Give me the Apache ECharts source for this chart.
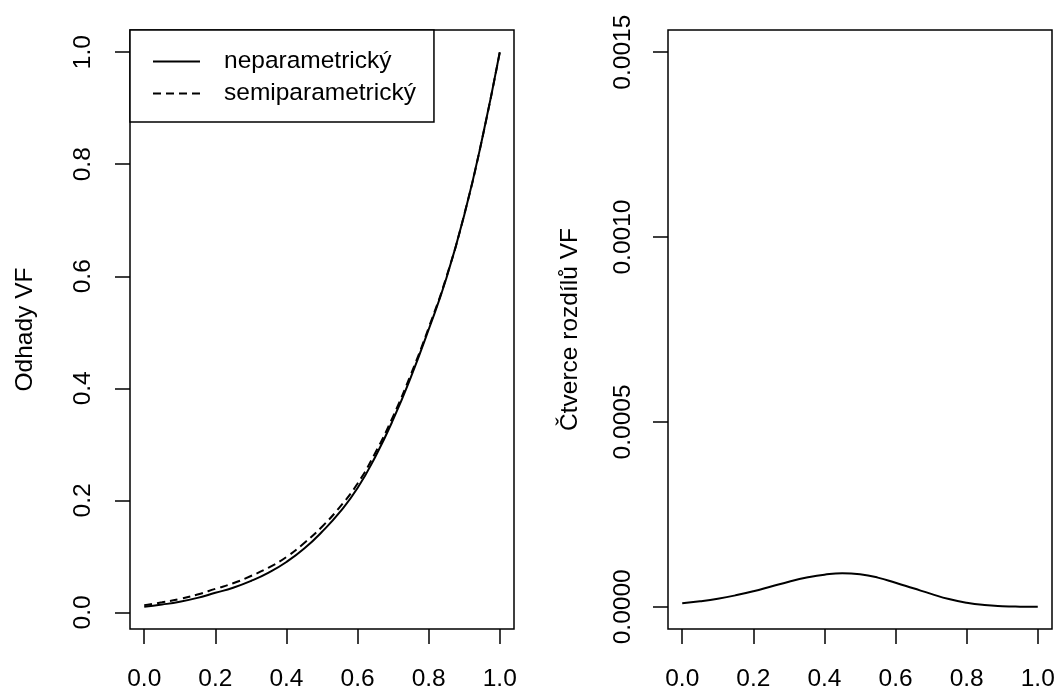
<!DOCTYPE html>
<html lang="cs">
<head>
    <meta charset="UTF-8">
    <title>Odhady VF</title>
    <script src="https://cdn.jsdelivr.net/npm/echarts@6/dist/echarts.min.js"></script>
    <style>
        html, body { margin: 0; padding: 0; background: #fff; }
        #chart { width: 1063px; height: 693px; }
    </style>
</head>
<body>
<div id="chart"></div>
<script>
    // hodnoty
    var xs = [0, 0.05, 0.1, 0.15, 0.2, 0.25, 0.3, 0.35, 0.4, 0.45, 0.5,
              0.55, 0.6, 0.65, 0.7, 0.75, 0.8, 0.85, 0.9, 0.95, 1.0];
    var neparam = [0.010, 0.014, 0.019, 0.026, 0.035, 0.044, 0.056, 0.071, 0.090, 0.114, 0.144,
                   0.179, 0.222, 0.278, 0.344, 0.420, 0.505, 0.597, 0.709, 0.844, 1.000];
    var semiparam = [0.013, 0.018, 0.024, 0.032, 0.042, 0.052, 0.065, 0.080, 0.099, 0.124, 0.153,
                     0.188, 0.230, 0.285, 0.350, 0.425, 0.508, 0.599, 0.710, 0.844, 1.000];
    var ctverce = [0.0000095, 0.000015, 0.000022, 0.000031, 0.000042, 0.000055, 0.000068, 0.000079,
                   0.000087, 0.000091, 0.000088, 0.000079, 0.000065, 0.000050, 0.000035, 0.000021,
                   0.000011, 0.0000048, 0.0000017, 0.0000004, 0.0];
    var seriesNames = ['neparametrický', 'semiparametrický'];
    var xTicks = [0, 0.2, 0.4, 0.6, 0.8, 1.0];
    var yTicksLeft = [0, 0.2, 0.4, 0.6, 0.8, 1.0];
    var yTicksRight = [0, 0.0005, 0.001, 0.0015];

    function pairs(ys) {
        var out = [];
        for (var i = 0; i < xs.length; i++) {
            out.push([xs[i], ys[i]]);
        }
        return out;
    }

    var font = 'Liberation Sans, Arial, sans-serif';
    var fs = 24.5;

    function xAxisFor(idx) {
        return {
            type: 'value', gridIndex: idx, min: -0.04, max: 1.04,
            axisLine: { show: false, onZero: false },
            axisTick: { show: true, length: 15, customValues: xTicks, lineStyle: { color: '#000', width: 1.5 } },
            axisLabel: {
                customValues: xTicks, margin: 38, color: '#000', fontSize: fs, fontFamily: font,
                formatter: function (v) { return v.toFixed(1); }
            },
            splitLine: { show: false }
        };
    }

    var dom = document.getElementById('chart');
    var myChart = echarts.init(dom, null, { renderer: 'canvas' });
    var option = {
        animation: false,
        backgroundColor: '#fff',
        grid: [
            { left: 130, top: 30, width: 384, height: 599, show: true, borderColor: '#000', borderWidth: 1.5, backgroundColor: 'transparent' },
            { left: 668, top: 30, width: 384, height: 599, show: true, borderColor: '#000', borderWidth: 1.5, backgroundColor: 'transparent' }
        ],
        legend: {
            data: seriesNames,
            orient: 'vertical',
            left: 130, top: 30,
            itemWidth: 47, itemHeight: 14, itemGap: 7,
            padding: [19, 18, 16, 22],
            borderColor: '#000', borderWidth: 1.5,
            backgroundColor: '#fff',
            itemStyle: { opacity: 0 },
            textStyle: { fontSize: fs, fontFamily: font, color: '#000', padding: [0, 0, 0, 19] }
        },
        xAxis: [xAxisFor(0), xAxisFor(1)],
        yAxis: [
            {
                type: 'value', gridIndex: 0, min: -0.0296, max: 1.0396,
                name: 'Odhady VF', nameLocation: 'middle', nameRotate: 90, nameGap: 92,
                nameTextStyle: { fontSize: fs, fontFamily: font, color: '#000' },
                axisLine: { show: false, onZero: false },
                axisTick: { show: true, length: 15, customValues: yTicksLeft, lineStyle: { color: '#000', width: 1.5 } },
                axisLabel: {
                    customValues: yTicksLeft, rotate: 90, margin: 34, color: '#000', fontSize: fs, fontFamily: font,
                    formatter: function (v) { return v.toFixed(1); }
                },
                splitLine: { show: false }
            },
            {
                type: 'value', gridIndex: 1, min: -0.00006, max: 0.00156,
                name: 'Čtverce rozdílů VF', nameLocation: 'middle', nameRotate: 90, nameGap: 85,
                nameTextStyle: { fontSize: fs, fontFamily: font, color: '#000' },
                axisLine: { show: false, onZero: false },
                axisTick: { show: true, length: 15, customValues: yTicksRight, lineStyle: { color: '#000', width: 1.5 } },
                axisLabel: {
                    customValues: yTicksRight, rotate: 90, margin: 32, color: '#000', fontSize: fs, fontFamily: font,
                    formatter: function (v) { return v.toFixed(4); }
                },
                splitLine: { show: false }
            }
        ],
        series: [
            {
                name: seriesNames[0], type: 'line', xAxisIndex: 0, yAxisIndex: 0,
                data: pairs(neparam), symbol: 'none', smooth: 0.5,
                color: '#000', lineStyle: { color: '#000', width: 2, type: 'solid' }
            },
            {
                name: seriesNames[1], type: 'line', xAxisIndex: 0, yAxisIndex: 0,
                data: pairs(semiparam), symbol: 'none', smooth: 0.5,
                color: '#000', lineStyle: { color: '#000', width: 2, type: [8, 5] }
            },
            {
                name: 'ctverce', type: 'line', xAxisIndex: 1, yAxisIndex: 1,
                data: pairs(ctverce), symbol: 'none', smooth: 0.5,
                color: '#000', lineStyle: { color: '#000', width: 2 }
            }
        ]
    };
    myChart.setOption(option);
</script>
</body>
</html>
